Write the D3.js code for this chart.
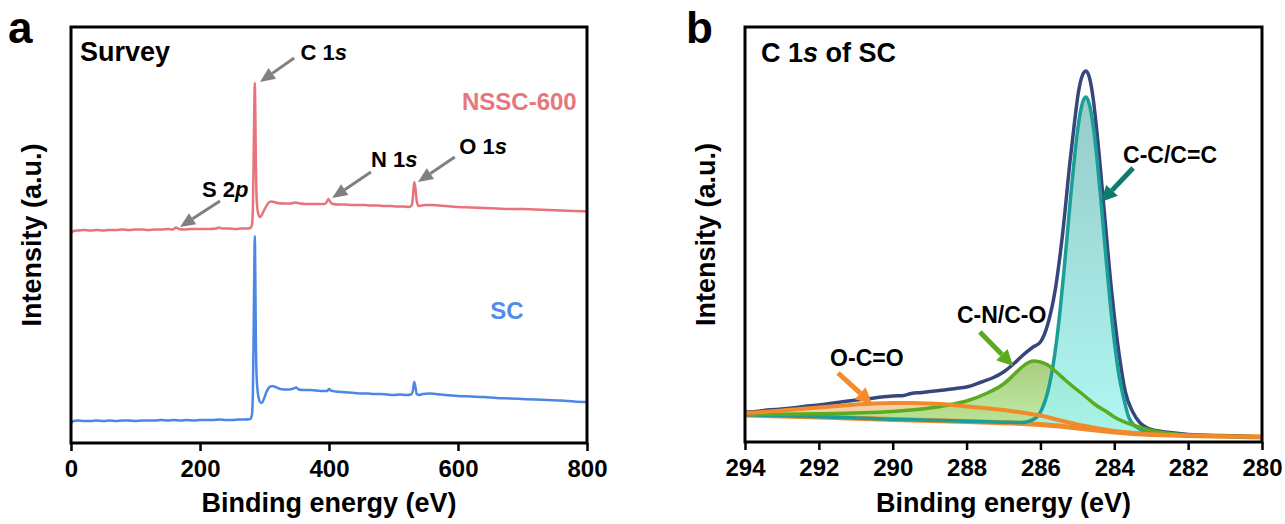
<!DOCTYPE html>
<html>
<head>
<meta charset="utf-8">
<script src="https://cdn.jsdelivr.net/npm/d3@7"></script>
<style>
  body { margin: 0; background: #fff; }
  text { font-family: "Liberation Sans", Arial, sans-serif; font-weight: bold; }
</style>
</head>
<body>
<script>
const width = 1285;
const height = 524;

// ---- panel a: survey spectra, [binding energy eV, intensity a.u.]
const surveyNSSC = [
  [0,210],[4,212],[10,212.5],[20,213],[30,212.5],[40,213],[50,212.5],[60,213],[70,213],[80,213.5],
  [90,213],[100,213.5],[110,213.5],[120,213],[130,213.5],[140,213.5],[150,214],[158,213.5],[163,215.5],
  [167,214],[175,213.5],[185,214],[195,214],[205,214],[215,214],[225,214.5],[230,215.5],[234,214.5],
  [245,214.5],[255,214],[265,214.5],[273,214.5],[278,215],[280.5,218],[282,235],[283,275],[284,330],
  [285,360],[285.8,330],[286.6,280],[287.5,250],[289,234],[291,228],[293,226],[295,227],[298,231],
  [302,236],[306,240],[310,241.5],[315,241],[320,240],[330,239.5],[340,239.5],[348,240.5],[355,239.5],
  [365,239],[375,239],[385,239],[393,239],[396,240.5],[399,244],[402,241],[406,239],[415,238.5],
  [425,238.5],[435,238],[445,238],[455,238],[465,237.5],[475,237.5],[485,237],[495,237],[505,236.5],
  [515,236.5],[524,236],[528,237.5],[530,245],[532,261],[534,255],[536,242],[539,237],[543,237.5],
  [550,238],[560,238],[570,237.5],[580,237],[590,236.5],[600,236],[620,235.5],[640,235],[660,234.5],
  [680,234],[700,234],[720,233.5],[740,233],[760,232.5],[780,232],[800,231.5]
];
const surveySC = [
  [0,20],[4,22],[10,22.5],[20,22],[30,22],[40,22.5],[50,22],[60,22.5],[70,22],[80,22.5],[90,22.5],
  [100,22],[110,22.5],[120,22.5],[130,22.5],[140,23],[150,22.5],[160,23],[170,22.5],[180,23],[190,22.5],
  [200,23],[210,23],[220,23],[230,23.5],[240,23],[250,23],[260,23.5],[270,23.5],[278,24],[280.5,28],
  [282,50],[283,100],[284,165],[285,207],[285.8,165],[286.6,105],[287.5,72],[289,54],[291,45],[293,41],
  [296,40],[299,44],[303,51],[307,55.5],[312,57],[317,56],[322,54.5],[330,53.5],[338,53.5],[345,54.5],
  [349,55.5],[353,53.5],[360,53],[370,53],[380,52.5],[390,52],[397,52],[400,54],[403,52.5],[410,51.5],
  [420,51],[430,50.5],[440,50],[450,49.5],[460,49.5],[470,49],[480,49],[490,48.5],[500,48],[510,48.5],
  [520,48],[527,48.5],[530,52],[532,61],[534,56],[536,49],[540,48],[545,49],[555,49.5],[565,49],
  [580,48],[600,47],[620,46.5],[640,46],[660,45],[680,44.5],[700,44],[720,43.5],[740,43],[760,42.5],
  [780,41.5],[800,41]
];
const surveyTicks = [0, 200, 400, 600, 800];
const surveyMinor = [100, 300, 500, 700];

// ---- panel b: C 1s of SC, [binding energy eV, intensity a.u.]
const c1sEnvelope = [
  [294,30],[293.7,30.5],[293.4,32],[293,33],[292.6,34.5],[292.3,36],[292,37],[291.6,39],[291.3,40.5],
  [291,42],[290.6,43.5],[290.3,45],[290,46],[289.7,46.5],[289.5,48.5],[289.2,49.5],[289,50.5],
  [288.6,52],[288.3,53.5],[288,55],[287.6,60],[287.3,64],[287,70],[286.7,79],[286.5,86],[286.2,95],
  [286,100],[285.8,118],[285.6,152],[285.4,208],[285.2,280],[285.07,322],[284.97,350],[284.87,366],
  [284.77,371],[284.67,364],[284.57,343],[284.47,310],[284.27,230],[284.07,150],[283.87,88],
  [283.7,50],[283.5,30],[283.3,19],[283.1,14],[283,12.5],[282.5,9.5],[282,7.5],[281,6],[280,5]
];
const c1sCC = [
  [294,27.2],[292,25.2],[290,22.8],[288,20.8],[287,19.8],[286.5,19.5],[286.17,23],[285.97,32],
  [285.77,55],[285.67,74],[285.57,99],[285.47,131],[285.37,168],[285.27,209],[285.17,250],
  [285.07,287],[284.97,318],[284.87,338],[284.77,345],[284.67,337],[284.57,316],[284.47,284],
  [284.37,245],[284.27,203],[284.17,162],[284.07,124],[283.97,92],[283.87,66],[283.77,48],
  [283.6,24],[283.4,15],[283.2,11],[282.8,8],[282,6.5],[281,5.7],[280,5]
];
const c1sCN = [
  [294,27.5],[293,27.8],[292,28.2],[291,29],[290,30.5],[289.5,32],[289,34],[288.5,37],[288,41],
  [287.5,48],[287,58],[286.7,68],[286.5,75],[286.3,80],[286.2,81],[286,80],[285.8,77],[285.6,71],
  [285.3,61],[285,52],[284.7,43],[284.5,37],[284.2,30],[284,25],[283.5,17],[283,11.5],[282.5,8.5],
  [282,7],[281,5.8],[280,5]
];
const c1sOCO = [
  [294,29],[293.5,30],[293,31.5],[292.5,33],[292,34.5],[291.5,36],[291,37.5],[290.5,38.5],[290,39],
  [289.5,39],[289,38.5],[288.5,37.5],[288,35.5],[287.5,34],[287,32],[286.5,29.5],[286,26.5],
  [285.5,22],[285,17.5],[284.5,14],[284,11],[283.5,9],[283,7.8],[282,6.5],[281,5.7],[280,5]
];
const c1sBackground = [
  [294,27],[293,26],[292,25],[291,23.7],[290,22.5],[289,21.5],[288,20.5],[287,19.3],[286.5,18.5],
  [286,17.5],[285.5,16],[285,14],[284.5,12],[284,10],[283.5,8.5],[283,7.5],[282.5,7],[282,6.5],
  [281,5.7],[280,5]
];
const c1sTicks = [294, 292, 290, 288, 286, 284, 282, 280];
const c1sMinor = [293, 291, 289, 287, 285, 283, 281];

const svg = d3.select("body").append("svg")
  .attr("width", width)
  .attr("height", height)
  .style("background", "#fff");

const defs = svg.append("defs");
function grad(id, top, bottom) {
  const g = defs.append("linearGradient").attr("id", id)
    .attr("x1", 0).attr("y1", 0).attr("x2", 0).attr("y2", 1);
  g.append("stop").attr("offset", "0%").attr("stop-color", top);
  g.append("stop").attr("offset", "100%").attr("stop-color", bottom);
}
grad("gCC", "#84c2bf", "#a2f6f1");
grad("gCN", "#93bf5e", "#b6f09c");
grad("gOCO", "#f5c28e", "#c9c07a");

function richText(g, x, y, parts, size, anchor, fill) {
  const t = g.append("text").attr("x", x).attr("y", y)
    .attr("font-size", size).attr("text-anchor", anchor).attr("fill", fill || "#000");
  parts.forEach(([s, it]) => t.append("tspan").text(s).attr("font-style", it ? "italic" : null));
  return t;
}

function arrow(g, x1, y1, x2, y2, color, w, headLen, headW) {
  const a = Math.atan2(y2 - y1, x2 - x1);
  const bx = x2 - headLen * Math.cos(a), by = y2 - headLen * Math.sin(a);
  g.append("line").attr("x1", x1).attr("y1", y1).attr("x2", bx).attr("y2", by)
    .attr("stroke", color).attr("stroke-width", w);
  const px = -Math.sin(a) * headW / 2, py = Math.cos(a) * headW / 2;
  g.append("path").attr("d", `M${x2},${y2}L${bx + px},${by + py}L${bx - px},${by - py}Z`).attr("fill", color);
}

function frameAndAxis(x, y, ticks, minor, xTitle, yTitleX) {
  const [x0, x1] = x.range(), [y0, y1] = y.range();
  const ax = svg.append("g").attr("transform", `translate(0,${y0})`);
  ax.call(d3.axisBottom(x).tickValues(minor).tickSize(5).tickFormat(""));
  ax.call(d3.axisBottom(x).tickValues(ticks).tickSize(8).tickPadding(9));
  ax.select(".domain").remove();
  ax.attr("font-size", 24);
  ax.selectAll("line").attr("stroke", "#000").attr("stroke-width", 2.5);
  ax.selectAll("text").attr("fill", "#000");

  svg.append("rect")
    .attr("x", x0).attr("y", y1).attr("width", x1 - x0).attr("height", y0 - y1)
    .attr("fill", "none").attr("stroke", "#000").attr("stroke-width", 3);

  svg.append("text").attr("x", (x0 + x1) / 2).attr("y", 512)
    .attr("text-anchor", "middle").attr("font-size", 27).text(xTitle);
  svg.append("text")
    .attr("transform", `translate(${yTitleX},${(y0 + y1) / 2}) rotate(-90)`)
    .attr("text-anchor", "middle").attr("font-size", 27).text("Intensity (a.u.)");
}

// ================= panel a =================
const xa = d3.scaleLinear().domain([0, 800]).range([71, 587]);
const ya = d3.scaleLinear().domain([0, 416]).range([443, 27]);
const lineA = d3.line().x(d => xa(d[0])).y(d => ya(d[1])).curve(d3.curveMonotoneX);

const ga = svg.append("g");
ga.append("path").datum(surveySC).attr("d", lineA)
  .attr("fill", "none").attr("stroke", "#4b88e6").attr("stroke-width", 2.5).attr("stroke-linejoin", "round");
ga.append("path").datum(surveyNSSC).attr("d", lineA)
  .attr("fill", "none").attr("stroke", "#e8737a").attr("stroke-width", 2.5).attr("stroke-linejoin", "round");

const surveyNotes = [
  { parts: [["C 1", false], ["s", true]], at: [356, 383], anchor: "start", from: [346, 385], to: [293, 361] },
  { parts: [["S 2", false], ["p", true]], at: [239, 246], anchor: "middle", from: [231, 242], to: [169, 216] },
  { parts: [["N 1", false], ["s", true]], at: [501, 276], anchor: "middle", from: [465, 271], to: [405, 245] },
  { parts: [["O 1", false], ["s", true]], at: [639, 289], anchor: "middle", from: [595, 286], to: [538, 261] }
];
surveyNotes.forEach(n => {
  richText(ga, xa(n.at[0]), ya(n.at[1]), n.parts, 22, n.anchor);
  arrow(ga, xa(n.from[0]), ya(n.from[1]), xa(n.to[0]), ya(n.to[1]), "#808080", 3, 15, 13);
});
ga.append("text").attr("x", xa(784)).attr("y", ya(333)).attr("text-anchor", "end")
  .attr("font-size", 24).attr("fill", "#e8777c").text("NSSC-600");
ga.append("text").attr("x", xa(676)).attr("y", ya(124)).attr("text-anchor", "middle")
  .attr("font-size", 24).attr("fill", "#4f8de8").text("SC");
ga.append("text").attr("x", 80).attr("y", 61).attr("font-size", 27).text("Survey");

frameAndAxis(xa, ya, surveyTicks, surveyMinor, "Binding energy (eV)", 41);
svg.append("text").attr("x", 8).attr("y", 43).attr("font-size", 44).text("a");

// ================= panel b =================
const xb = d3.scaleLinear().domain([294, 280]).range([745, 1262]);
const yb = d3.scaleLinear().domain([0, 415]).range([442, 27]);
const lineB = d3.line().x(d => xb(d[0])).y(d => yb(d[1])).curve(d3.curveMonotoneX);
const lineBg = d3.line().x(d => xb(d[0])).y(d => yb(d[1]));

function band(comp) {
  const bottom = lineBg(c1sBackground.slice().reverse());
  return lineB(comp) + "L" + bottom.slice(1) + "Z";
}

const gb = svg.append("g");
gb.append("path").attr("d", band(c1sOCO)).attr("fill", "url(#gOCO)").attr("opacity", 0.75);
gb.append("path").attr("d", band(c1sCN)).attr("fill", "url(#gCN)").attr("opacity", 0.8);
gb.append("path").attr("d", band(c1sCC)).attr("fill", "url(#gCC)").attr("opacity", 0.85);

gb.append("path").datum(c1sBackground).attr("d", lineBg)
  .attr("fill", "none").attr("stroke", "#f28a2c").attr("stroke-width", 5);
gb.append("path").datum(c1sEnvelope).attr("d", lineB)
  .attr("fill", "none").attr("stroke", "#35477d").attr("stroke-width", 3.5).attr("stroke-linejoin", "round");
gb.append("path").datum(c1sCC).attr("d", lineB)
  .attr("fill", "none").attr("stroke", "#1a9e98").attr("stroke-width", 3.5);
gb.append("path").datum(c1sCN).attr("d", lineB)
  .attr("fill", "none").attr("stroke", "#5aab1f").attr("stroke-width", 3.5);
gb.append("path").datum(c1sOCO).attr("d", lineB)
  .attr("fill", "none").attr("stroke", "#f28a2c").attr("stroke-width", 4);

const c1sNotes = [
  { text: "C-C/C=C", at: [282.49, 279], color: "#10796f", from: [283.49, 274], to: [284.36, 240] },
  { text: "C-N/C-O", at: [287.05, 119], color: "#5aab1f", from: [287.64, 110], to: [286.74, 76] },
  { text: "O-C=O", at: [290.7, 76], color: "#f58a2a", from: [291.48, 69], to: [290.56, 38] }
];
c1sNotes.forEach(n => {
  gb.append("text").attr("x", xb(n.at[0])).attr("y", yb(n.at[1])).attr("text-anchor", "middle")
    .attr("font-size", 23).text(n.text);
  arrow(gb, xb(n.from[0]), yb(n.from[1]), xb(n.to[0]), yb(n.to[1]), n.color, 5, 16, 16);
});
richText(gb, 761, 62, [["C 1", false], ["s", true], [" of SC", false]], 27, "start");

frameAndAxis(xb, yb, c1sTicks, c1sMinor, "Binding energy (eV)", 715);
svg.append("text").attr("x", 686).attr("y", 43).attr("font-size", 44).text("b");
</script>
</body>
</html>
